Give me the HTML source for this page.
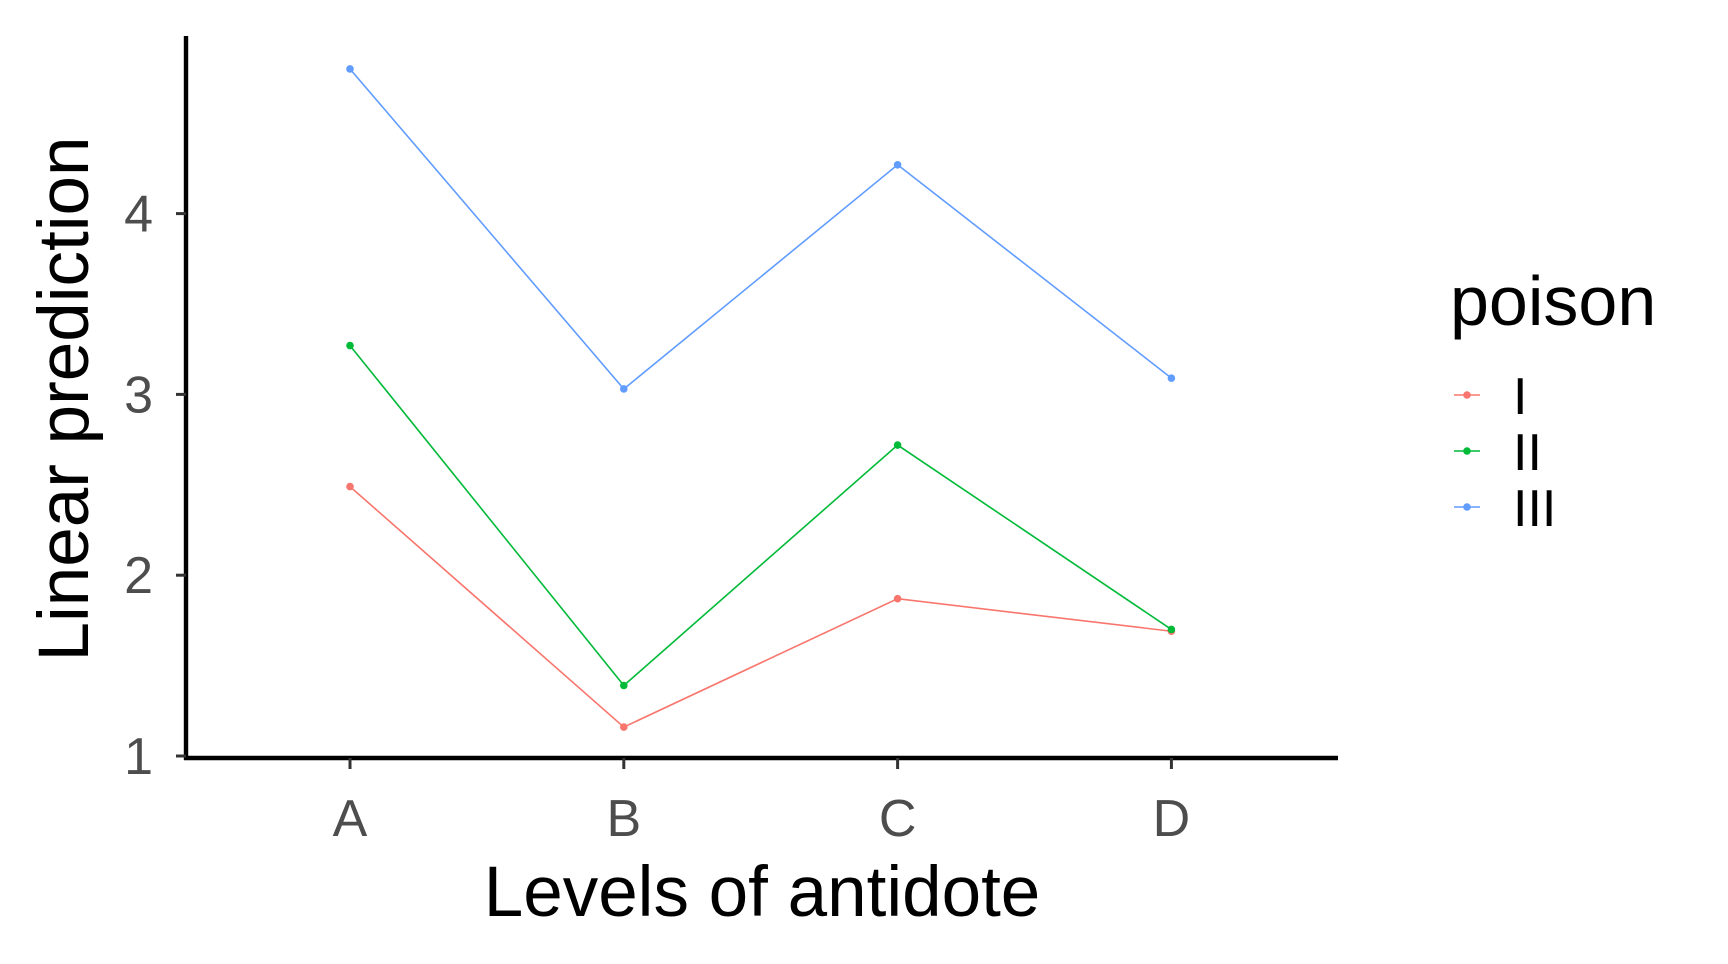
<!DOCTYPE html>
<html><head><meta charset="utf-8"><style>body{margin:0;background:#fff}svg{display:block}text{font-family:"Liberation Sans",Arial,sans-serif}</style></head>
<body>
<svg id="chart" width="1728" height="964" viewBox="0 0 1728 964" xmlns="http://www.w3.org/2000/svg">
<g id="plot"></g>
</svg>
<script>
const categories = ["A","B","C","D"];
const seriesNames = ["I","II","III"];
const seriesI = [2.49, 1.16, 1.87, 1.69];
const seriesII = [3.27, 1.39, 2.72, 1.70];
const seriesIII = [4.80, 3.03, 4.27, 3.09];
const yTicks = [1,2,3,4];
const colors = ["#F8766D","#00BA38","#619CFF"];
const NS="http://www.w3.org/2000/svg";
const g=document.getElementById('plot');
const X0=186, X1=1338, Y0=758, Ytop=36;
function xs(i){return 350 + i*273.8;}
function ys(v){return 756 - (v-1)*180.8;}
function mk(tag,attrs,parent){const e=document.createElementNS(NS,tag);for(const k in attrs)e.setAttribute(k,attrs[k]);(parent||g).appendChild(e);return e;}
const all=[seriesI,seriesII,seriesIII];
all.forEach((s,si)=>{
  const pl=mk('polyline',{points:s.map((v,i)=>xs(i)+','+ys(v)).join(' '),fill:'none',stroke:colors[si],'stroke-width':1.6});
  
  
  s.forEach((v,i)=>{
    const c=mk('circle',{cx:xs(i),cy:ys(v),r:3.8,fill:colors[si]});
    
    
  });
});
const ya=mk('line',{x1:X0,y1:Ytop,x2:X0,y2:Y0+2,stroke:'#000','stroke-width':4.4});


const xa=mk('line',{x1:X0-2,y1:Y0,x2:X1,y2:Y0,stroke:'#000','stroke-width':4.4});


yTicks.forEach(t=>{
  const l=mk('line',{x1:X0-10,y1:ys(t),x2:X0,y2:ys(t),stroke:'#333','stroke-width':3});
  
  
  const tx=mk('text',{x:153,y:ys(t)+18,'text-anchor':'end','font-size':52,fill:'#4d4d4d'});
  tx.textContent=t;
  
  
});
categories.forEach((c,i)=>{
  const l=mk('line',{x1:xs(i),y1:Y0,x2:xs(i),y2:Y0+11,stroke:'#333','stroke-width':3});
  
  
  const tx=mk('text',{x:xs(i),y:836,'text-anchor':'middle','font-size':52,fill:'#4d4d4d'});
  tx.textContent=c;
  
  
});
const xt=mk('text',{x:762,y:916,'text-anchor':'middle','font-size':71,fill:'#000'});
xt.textContent='Levels of antidote';


const yt=mk('text',{x:0,y:0,'text-anchor':'middle','font-size':71,fill:'#000',transform:'translate(88,399) rotate(-90)'});
yt.textContent='Linear prediction';


const lt=mk('text',{x:1450,y:325,'font-size':70,fill:'#000'});
lt.textContent='poison';


seriesNames.forEach((n,i)=>{
  const y=395+i*56;
  const l=mk('line',{x1:1454,y1:y,x2:1480,y2:y,stroke:colors[i],'stroke-width':1.6});
  
  
  const c=mk('circle',{cx:1467,cy:y,r:3.8,fill:colors[i]});
  
  
  const tx=mk('text',{x:1513,y:y+19,'font-size':52,fill:'#000'});
  tx.textContent=n;
  
  
});
</script>
</body></html>
